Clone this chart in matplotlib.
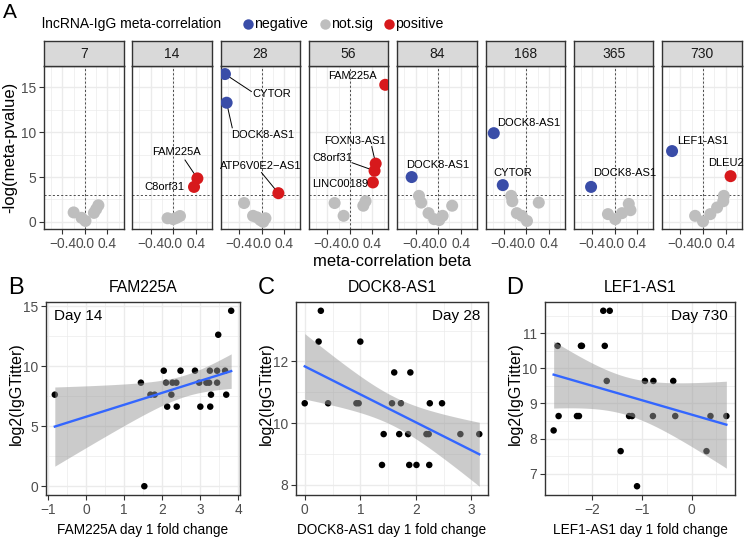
import numpy as np
import matplotlib
matplotlib.use("Agg")
import matplotlib.pyplot as plt

plt.rcParams['font.family'] = ['Liberation Sans', 'DejaVu Sans']

# ---------------- Data: panel A (long format) ----------------
days = [7, 14, 28, 56, 84, 168, 365, 730]

facet_day = [7, 7, 7, 7, 7, 7,
             14, 14, 14, 14, 14, 14,
             28, 28, 28, 28, 28, 28, 28, 28, 28,
             56, 56, 56, 56, 56, 56, 56, 56,
             84, 84, 84, 84, 84, 84, 84, 84,
             168, 168, 168, 168, 168, 168, 168, 168,
             365, 365, 365, 365, 365, 365,
             730, 730, 730, 730, 730, 730, 730, 730]
facet_beta = [-0.20, -0.06, 0.01, 0.16, 0.20, 0.24,
              0.43, 0.37, -0.10, 0.00, 0.06, 0.12,
              -0.65, -0.62, 0.30, -0.31, -0.15, -0.08, -0.02, 0.03, 0.07,
              0.63, 0.46, 0.44, 0.41, -0.27, -0.11, 0.24, 0.28,
              -0.47, -0.34, -0.30, -0.17, -0.07, 0.02, 0.08, 0.25,
              -0.58, -0.42, -0.27, -0.25, -0.17, -0.08, 0.01, 0.22,
              -0.42, -0.12, 0.01, 0.13, 0.25, 0.28,
              -0.55, 0.49, -0.14, 0.00, 0.13, 0.25, 0.36, 0.37]
facet_logp = [1.05, 0.45, 0.10, 1.00, 1.40, 1.85,
              4.85, 3.90, 0.40, 0.30, 0.45, 0.65,
              16.5, 13.3, 3.2, 2.1, 0.67, 0.50, 0.20, 0.00, 0.40,
              15.3, 6.5, 5.7, 4.4, 2.1, 0.67, 1.8, 2.3,
              5.0, 2.9, 2.15, 0.97, 0.30, 0.20, 0.67, 1.8,
              9.9, 4.1, 2.9, 2.3, 0.97, 0.67, 0.10, 2.15,
              3.9, 0.86, 0.30, 0.97, 2.0, 1.3,
              7.9, 5.1, 0.67, 0.05, 0.86, 1.6, 2.3, 2.9]
facet_class = (['not.sig'] * 6 +
               ['positive', 'positive'] + ['not.sig'] * 4 +
               ['negative', 'negative', 'positive'] + ['not.sig'] * 6 +
               ['positive'] * 4 + ['not.sig'] * 4 +
               ['negative'] + ['not.sig'] * 7 +
               ['negative', 'negative'] + ['not.sig'] * 6 +
               ['negative'] + ['not.sig'] * 5 +
               ['negative', 'positive'] + ['not.sig'] * 6)
facet_gene = ([''] * 6 +
              ['FAM225A', 'C8orf31'] + [''] * 4 +
              ['CYTOR', 'DOCK8-AS1', 'ATP6V0E2\u2212AS1'] + [''] * 6 +
              ['FAM225A', 'FOXN3-AS1', 'C8orf31', 'LINC00189'] + [''] * 4 +
              ['DOCK8-AS1'] + [''] * 7 +
              ['DOCK8-AS1', 'CYTOR'] + [''] * 6 +
              ['DOCK8-AS1'] + [''] * 5 +
              ['LEF1-AS1', 'DLEU2'] + [''] * 6)

# label placement (text centre, optional segment start) in data units
label_pos = {
    (14, 'FAM225A'): (0.05, 7.8, (0.21, 6.9)),
    (14, 'C8orf31'): (-0.15, 3.9, None),
    (28, 'CYTOR'): (0.19, 14.3, (-0.18, 14.55)),
    (28, 'DOCK8-AS1'): (0.02, 9.67, (-0.52, 10.5)),
    (28, 'ATP6V0E2\u2212AS1'): (-0.01, 6.2, (0.0, 5.5)),
    (56, 'FAM225A'): (0.05, 16.3, None),
    (56, 'FOXN3-AS1'): (0.10, 9.0, (0.39, 8.4)),
    (56, 'C8orf31'): (-0.31, 7.15, (0.04, 6.6)),
    (56, 'LINC00189'): (-0.17, 4.2, None),
    (84, 'DOCK8-AS1'): (-0.01, 6.4, None),
    (168, 'DOCK8-AS1'): (0.04, 11.0, None),
    (168, 'CYTOR'): (-0.25, 5.4, None),
    (365, 'DOCK8-AS1'): (0.17, 5.4, None),
    (730, 'LEF1-AS1'): (0.00, 9.0, None),
    (730, 'DLEU2'): (0.40, 6.6, None),
}

class_colors = {'negative': '#3A4DA8', 'not.sig': '#BEBEBE', 'positive': '#D7191C'}
legend_classes = ['negative', 'not.sig', 'positive']

# ---------------- Data: panels B, C, D ----------------
b_x = [-0.82, 1.44, 1.53, 1.69, 1.80, 2.04, 2.10, 2.13, 2.24, 2.27, 2.37, 2.38,
       2.48, 2.86, 2.97, 3.00, 3.16, 3.23, 3.25, 3.26, 3.28, 3.44, 3.44, 3.47,
       3.65, 3.68, 3.81]
b_y = [7.64, 8.64, 0.00, 7.64, 7.64, 9.64, 8.64, 6.64, 7.64, 8.64, 8.64, 6.64,
       9.64, 9.64, 8.64, 6.64, 8.64, 8.64, 9.64, 6.64, 7.64, 9.64, 8.64, 12.64,
       9.64, 7.64, 14.64]

c_x = [0.00, 0.25, 0.29, 0.42, 0.93, 0.97, 1.00, 1.39, 1.42, 1.57, 1.61, 1.70,
       1.73, 1.86, 1.88, 1.90, 2.01, 2.19, 2.23, 2.24, 2.25, 2.47, 2.80, 3.14]
c_y = [10.64, 12.64, 13.64, 10.64, 10.64, 10.64, 12.64, 8.64, 9.64, 10.64, 11.64, 9.64,
       10.64, 9.64, 8.64, 11.64, 8.64, 9.64, 9.64, 8.64, 10.64, 10.64, 9.64, 9.64]

d_x = [-2.78, -2.70, -2.68, -2.31, -2.27, -2.23, -2.21, -1.78, -1.65, -1.75, -1.71,
       -1.43, -1.26, -1.20, -1.10, -0.94, -0.77, -0.78, -0.37, -0.33, 0.30, 0.38, 0.70]
d_y = [8.23, 10.64, 8.64, 8.64, 8.64, 10.64, 10.64, 11.64, 11.64, 10.64, 9.64,
       7.64, 8.64, 8.64, 6.64, 9.64, 9.64, 8.64, 9.64, 8.64, 7.64, 8.64, 8.64]

# ---------------- Figure ----------------
W, H = 744, 538
fig = plt.figure(figsize=(W / 100, H / 100), dpi=100)

BORDER = '#333333'
TICKLAB = '#4D4D4D'
GRID = '#EBEBEB'
TICK_FS = 9.9
AXT_FS = 12
XT_FS = 9.8
YT_FS = 11.5
LAB_FS = 8


def ax_px(l, t, r, b):
    return fig.add_axes([l / W, 1 - b / H, (r - l) / W, (b - t) / H])


def ftext(x, y, s, **kw):
    fig.text(x / W, 1 - y / H, s, **kw)


def style_axes(ax, tick_size=TICK_FS):
    for sp in ax.spines.values():
        sp.set_color(BORDER)
        sp.set_linewidth(1.0)
    ax.set_facecolor('white')
    ax.grid(which='major', color=GRID, lw=1.0, zorder=0)
    ax.grid(which='minor', color=GRID, lw=0.5, zorder=0)
    ax.set_axisbelow(True)
    ax.tick_params(which='major', color=BORDER, length=3.5, width=0.8,
                   labelcolor=TICKLAB, labelsize=tick_size, pad=2)
    ax.tick_params(which='minor', length=0)


def fmt_minus(v, nd=0):
    s = f"{v:.{nd}f}"
    return s.replace('-', '\u2212')


# ---- Panel A ----
ftext(10, 12, 'A', fontsize=15, ha='center', va='center')
ftext(42, 24, 'lncRNA-IgG meta-correlation', fontsize=10, ha='left', va='center')
leg_x = [248, 325, 389]
for cls, lx in zip(legend_classes, leg_x):
    fig.add_artist(matplotlib.lines.Line2D([lx / W], [1 - 24 / H], marker='o', ls='',
                                           markersize=7.5, color=class_colors[cls],
                                           markeredgewidth=0))
    ftext(lx + 6, 24, cls, fontsize=10.2, ha='left', va='center')

xlimA = (-0.727, 0.686)
ylimA = (-0.8, 17.4)
panel_w = 79.5
panel_step = 88.3
facet_beta_a = np.array(facet_beta)
facet_logp_a = np.array(facet_logp)
facet_day_a = np.array(facet_day)

for i, d in enumerate(days):
    l = 44 + i * panel_step
    r = l + panel_w
    ax = ax_px(l, 66, r, 229)
    style_axes(ax)
    ax.set_xlim(*xlimA)
    ax.set_ylim(*ylimA)
    ax.set_xticks([-0.4, 0.0, 0.4])
    ax.set_xticklabels([fmt_minus(v, 1) for v in [-0.4, 0.0, 0.4]])
    ax.set_xticks([-0.6, -0.2, 0.2, 0.6], minor=True)
    ax.set_yticks([0, 5, 10, 15])
    ax.set_yticks([2.5, 7.5, 12.5], minor=True)
    if i > 0:
        ax.tick_params(axis='y', which='major', length=0, labelleft=False)
    ax.axvline(0, color='#333333', ls=(0, (2.5, 2.5)), lw=0.6, zorder=1)
    ax.axhline(3, color='#333333', ls=(0, (2.5, 2.5)), lw=0.6, zorder=1)
    idx = np.where(facet_day_a == d)[0]
    cols = [class_colors[facet_class[k]] for k in idx]
    ax.scatter(facet_beta_a[idx], facet_logp_a[idx], s=75, c=cols,
               edgecolors='none', zorder=3)
    for k in idx:
        g = facet_gene[k]
        if not g:
            continue
        tx, ty, seg = label_pos[(d, g)]
        if seg is not None:
            ax.plot([seg[0], facet_beta[k]], [seg[1], facet_logp[k]],
                    color='black', lw=0.7, zorder=2, clip_on=False)
        ax.text(tx, ty, g, fontsize=LAB_FS, ha='center', va='center',
                color='black', zorder=4, clip_on=False)
    # strip
    sax = ax_px(l, 41, r, 66)
    sax.set_facecolor('#D9D9D9')
    sax.set_xticks([])
    sax.set_yticks([])
    for sp in sax.spines.values():
        sp.set_color(BORDER)
        sp.set_linewidth(1.0)
    sax.text(0.5, 0.5, str(d), transform=sax.transAxes, ha='center',
             va='center', fontsize=10, color='#1A1A1A')

ftext(10, 147, '-log(meta-pvalue)', fontsize=AXT_FS, rotation=90, ha='center', va='center')
ftext(392, 261, 'meta-correlation beta', fontsize=AXT_FS, ha='center', va='center')


# ---- Panels B, C, D ----
def tcrit(df):
    z = 1.959964
    return (z + (z ** 3 + z) / (4 * df) +
            (5 * z ** 5 + 16 * z ** 3 + 3 * z) / (96 * df ** 2) +
            (3 * z ** 7 + 19 * z ** 5 + 17 * z ** 3 - 15 * z) / (384 * df ** 3))


def scatter_panel(box, xs, ys, title, xlabel, daytxt, day_left, xt, xmin_t, yt, ymin_t,
                  ylab_x, title_x, letter, letter_x):
    xs = np.array(xs)
    ys = np.array(ys)
    l, t, r, b = box
    ax = ax_px(l, t, r, b)
    style_axes(ax)
    n = len(xs)
    slope, icpt = np.polyfit(xs, ys, 1)
    xg = np.linspace(xs.min(), xs.max(), 80)
    yg = icpt + slope * xg
    resid = ys - (icpt + slope * xs)
    s = np.sqrt(np.sum(resid ** 2) / (n - 2))
    se = s * np.sqrt(1 / n + (xg - xs.mean()) ** 2 / np.sum((xs - xs.mean()) ** 2))
    tc = tcrit(n - 2)
    lo, hi = yg - tc * se, yg + tc * se
    ax.scatter(xs, ys, s=22, color='black', edgecolors='none', zorder=3)
    ax.fill_between(xg, lo, hi, color='#999999', alpha=0.5, lw=0, zorder=4)
    ax.plot(xg, yg, color='#3366FF', lw=1.7, zorder=5)
    xr = (xs.min(), xs.max())
    yr = (min(ys.min(), lo.min()), max(ys.max(), hi.max()))
    ex = 0.05 * (xr[1] - xr[0])
    ey = 0.05 * (yr[1] - yr[0])
    ax.set_xlim(xr[0] - ex, xr[1] + ex)
    ax.set_ylim(yr[0] - ey, yr[1] + ey)
    ax.set_xticks(xt)
    ax.set_xticklabels([fmt_minus(v) for v in xt])
    ax.set_xticks(xmin_t, minor=True)
    ax.set_yticks(yt)
    ax.set_yticklabels([fmt_minus(v) for v in yt])
    ax.set_yticks(ymin_t, minor=True)
    if day_left:
        ax.text(0.04, 0.965, daytxt, transform=ax.transAxes, ha='left', va='top',
                fontsize=11, zorder=6)
    else:
        ax.text(0.96, 0.965, daytxt, transform=ax.transAxes, ha='right', va='top',
                fontsize=11, zorder=6)
    ftext((l + r) / 2, 530, xlabel, fontsize=XT_FS, ha='center', va='center')
    ftext(ylab_x, (t + b) / 2 - 5, 'log2(IgGTitter)', fontsize=YT_FS, rotation=90,
          ha='center', va='center')
    ftext(title_x, 288, title, fontsize=11.3, ha='center', va='center')
    ftext(letter_x, 288, letter, fontsize=17, ha='center', va='center')


scatter_panel((46, 302, 240, 495), b_x, b_y, 'FAM225A', 'FAM225A day 1 fold change',
              'Day 14', True, [-1, 0, 1, 2, 3, 4], [-0.5, 0.5, 1.5, 2.5, 3.5],
              [0, 5, 10, 15], [2.5, 7.5, 12.5], 16, 143, 'B', 16)
scatter_panel((296, 302, 488, 495), c_x, c_y, 'DOCK8-AS1', 'DOCK8-AS1 day 1 fold change',
              'Day 28', False, [0, 1, 2, 3], [0.5, 1.5, 2.5],
              [8, 10, 12], [9, 11, 13], 266, 392, 'C', 266)
scatter_panel((545, 302, 735, 495), d_x, d_y, 'LEF1-AS1', 'LEF1-AS1 day 1 fold change',
              'Day 730', False, [-2, -1, 0], [-2.5, -1.5, -0.5, 0.5],
              [7, 8, 9, 10, 11], [7.5, 8.5, 9.5, 10.5, 11.5], 515, 640, 'D', 515)

fig.savefig('out.png', dpi=100)
